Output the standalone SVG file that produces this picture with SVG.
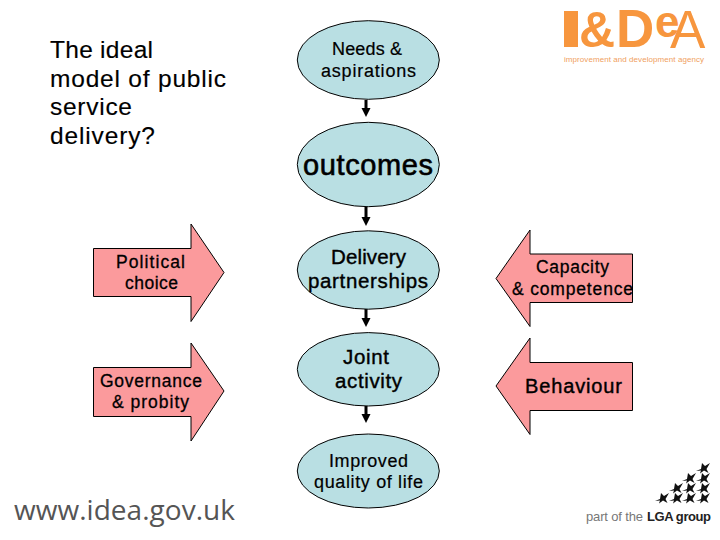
<svg xmlns="http://www.w3.org/2000/svg" width="720" height="540" viewBox="0 0 720 540">
<style>
text{font-family:"Liberation Sans",Arial,sans-serif;text-anchor:start;fill:#000}
.e{fill:#b9dfe3;stroke:#000;stroke-width:1}
.a{fill:#fb9a9c;stroke:#000;stroke-width:1}
.h{font-size:24.5px;stroke:#000;stroke-width:.15}
.n{font-size:18px;stroke:#000;stroke-width:.2}
.m{font-size:20.5px;stroke:#000;stroke-width:.4}
.p{font-size:17.5px;stroke:#000;stroke-width:.3}
.l{stroke:#000;stroke-width:3;fill:none}
.o{fill:#f7963e}
</style>
<defs>
<marker id="h" markerWidth="10" markerHeight="10" refX="0" refY="5" orient="auto" markerUnits="userSpaceOnUse"><path d="M0 0.5L9 5L0 9.5Z" fill="#000"/></marker>
<path id="s" d="M-7 3L-2 1L-1-5L2-2L7-5L3.5 1L5.5 5L1 2.5L-3 5.5L-2 2.5Z" fill="#111"/>
</defs>
<rect width="720" height="540" fill="#fff"/>
<g id="title">
<text class="h" x="50" y="58" textLength="103">The ideal</text>
<text class="h" x="50" y="87" textLength="176">model of public</text>
<text class="h" x="50" y="115" textLength="82">service</text>
<text class="h" x="50" y="144" textLength="105">delivery?</text>
</g>
<g id="connectors">
<path class="l" d="M366 100V108" marker-end="url(#h)"/>
<path class="l" d="M366 207V217" marker-end="url(#h)"/>
<path class="l" d="M366 309V318" marker-end="url(#h)"/>
<path class="l" d="M366 406V414" marker-end="url(#h)"/>
</g>
<g id="needs"><ellipse class="e" cx="368.3" cy="60" rx="71" ry="39.3"/><text class="n" x="332" y="55" textLength="70">Needs &amp;</text><text class="n" x="321" y="77" textLength="95">aspirations</text></g>
<g id="outcomes"><ellipse class="e" cx="368.3" cy="164.5" rx="71" ry="42.2"/><text x="303" y="175" font-size="29" stroke="#000" stroke-width=".6" textLength="130">outcomes</text></g>
<g id="delivery"><ellipse class="e" cx="368.3" cy="270" rx="71" ry="39.2"/><text class="m" x="331" y="264" textLength="75">Delivery</text><text class="m" x="308" y="288" textLength="120">partnerships</text></g>
<g id="joint"><ellipse class="e" cx="368.3" cy="369.3" rx="71" ry="36.7"/><text class="m" x="343" y="364" textLength="46">Joint</text><text class="m" x="335" y="388" textLength="67">activity</text></g>
<g id="improved"><ellipse class="e" cx="368.3" cy="471" rx="71" ry="37"/><text class="n" x="329" y="467" textLength="79">Improved</text><text class="n" x="314" y="488" textLength="109">quality of life</text></g>
<g id="political"><path class="a" d="M93.5 248.5H191V224L224 272.5L191 321.5V296.5H93.5Z"/><text class="p" x="116" y="268" textLength="69">Political</text><text class="p" x="125" y="289" textLength="53">choice</text></g>
<g id="governance"><path class="a" d="M93.5 367.5H191V343L224 391L191 441V416.5H93.5Z"/><text class="p" x="100" y="387" textLength="102">Governance</text><text class="p" x="112" y="408" textLength="77">&amp; probity</text></g>
<g id="capacity"><path class="a" d="M632.5 254H530V230L496 278.5L530 326.5V302.5H632.5Z"/><text class="p" x="536" y="273" textLength="73">Capacity</text><text class="p" x="512" y="295" textLength="121">&amp; competence</text></g>
<g id="behaviour"><path class="a" d="M632.5 362.5H530V338L496 386L530 434.5V410.5H632.5Z"/><text x="525" y="393" font-size="20" stroke="#000" stroke-width=".4" textLength="97">Behaviour</text></g>
<g id="url"><text x="14" y="520" textLength="221" style="font-family:'Open Sans','DejaVu Sans',sans-serif;font-size:28px;fill:#555">www.idea.gov.uk</text></g>
<g id="idea-logo">
<rect class="o" x="564" y="11" width="14" height="36"/>
<text style="font-size:50px;font-weight:700;fill:#f7963e"><tspan x="566" y="47">I</tspan><tspan x="579" y="47">&amp;</tspan><tspan x="616" y="47" style="font-size:53px">D</tspan><tspan x="655" y="37" style="font-size:44px">e</tspan><tspan x="670" y="48" style="font-size:53px;font-weight:400">A</tspan></text>
<text x="564" y="62" textLength="140" style="font-size:8px;fill:#f0a060">improvement and development agency</text>
</g>
<g id="lga-logo">
<use href="#s" x="703" y="468"/>
<use href="#s" x="689" y="478"/><use href="#s" x="703" y="478"/>
<use href="#s" x="676" y="488"/><use href="#s" x="689" y="488"/><use href="#s" x="703" y="488"/>
<use href="#s" x="662" y="498"/><use href="#s" x="676" y="498"/><use href="#s" x="689" y="498"/><use href="#s" x="703" y="498"/>
<text x="586" y="521" textLength="57" style="font-size:13px;fill:#777">part of the</text>
<text x="647" y="521" textLength="64" style="font-size:13px;font-weight:700;fill:#222">LGA group</text>
</g>
</svg>
